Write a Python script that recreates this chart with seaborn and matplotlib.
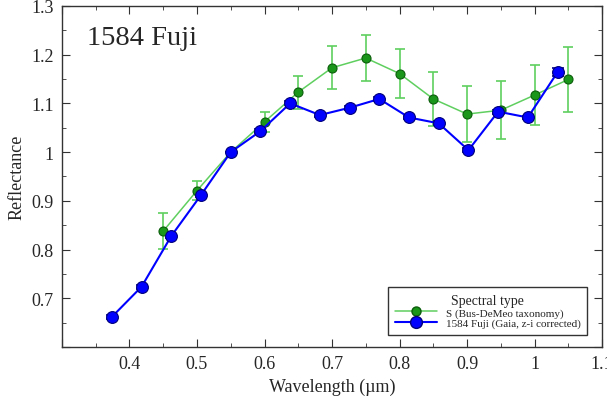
import matplotlib
matplotlib.use("Agg")
import matplotlib.pyplot as plt
import matplotlib.ticker as mticker
from matplotlib.lines import Line2D
import pandas as pd
import seaborn as sns

# S-type template (Bus-DeMeo)
s_wave = [0.45, 0.50, 0.55, 0.60, 0.65, 0.70, 0.75, 0.80, 0.85, 0.90, 0.95, 1.00, 1.05]
s_refl = [0.838, 0.921, 1.000, 1.062, 1.123, 1.173, 1.193, 1.161, 1.109, 1.078, 1.086, 1.117, 1.149]
s_err = [0.037, 0.020, 0.000, 0.020, 0.034, 0.044, 0.048, 0.050, 0.056, 0.058, 0.060, 0.061, 0.066]

# 1584 Fuji, Gaia DR3 reflectance
g_wave = [0.374, 0.418, 0.462, 0.506, 0.550, 0.594, 0.638, 0.682,
          0.726, 0.770, 0.814, 0.858, 0.902, 0.946, 0.990, 1.034]
g_refl = [0.662, 0.724, 0.828, 0.912, 1.000, 1.043, 1.100, 1.076,
          1.091, 1.109, 1.071, 1.059, 1.004, 1.083, 1.071, 1.164]
g_err = [0.004, 0.004, 0.004, 0.004, 0.0, 0.004, 0.004, 0.004,
         0.004, 0.004, 0.004, 0.004, 0.004, 0.004, 0.004, 0.008]

df_s = pd.DataFrame({"wave": s_wave, "refl": s_refl, "err": s_err})
df_g = pd.DataFrame({"wave": g_wave, "refl": g_refl, "err": g_err})

sns.set_style("ticks")
plt.rcParams["font.family"] = ["Liberation Serif", "DejaVu Serif"]

green_line = "#5fcf5f"
green_face = "#1a961a"
blue = "#0000ff"

fig = plt.figure(figsize=(6.07, 4.02), dpi=100)
ax = fig.add_axes([0.102, 0.134, 0.890, 0.849])

# error bars
ax.errorbar(df_s.wave, df_s.refl, yerr=df_s.err, fmt="none", ecolor=green_line,
            elinewidth=1.2, capsize=3.5, capthick=1.2, zorder=2)
ax.errorbar(df_g.wave, df_g.refl, yerr=df_g.err, fmt="none", ecolor="#00008b",
            elinewidth=1.2, capsize=4, capthick=1.2, zorder=3)

sns.lineplot(data=df_s, x="wave", y="refl", ax=ax, color=green_line, linewidth=1.1,
             marker="o", markersize=6.5, markerfacecolor=green_face,
             markeredgecolor="#0b5e0b", markeredgewidth=0.8, zorder=4)
sns.lineplot(data=df_g, x="wave", y="refl", ax=ax, color=blue, linewidth=1.5,
             marker="o", markersize=8.5, markerfacecolor=blue,
             markeredgecolor="#00007a", markeredgewidth=0.8, zorder=5)

ax.set_xlim(0.3, 1.1)
ax.set_ylim(0.6, 1.3)
ax.xaxis.set_major_locator(mticker.MultipleLocator(0.1))
ax.xaxis.set_minor_locator(mticker.MultipleLocator(0.05))
ax.yaxis.set_major_locator(mticker.MultipleLocator(0.1))
ax.yaxis.set_minor_locator(mticker.MultipleLocator(0.05))


def fmt_x(v, p):
    if abs(v - 0.3) < 1e-9:
        return ""
    return "1" if abs(v - 1) < 1e-9 else f"{v:.1f}"


def fmt_y(v, p):
    if abs(v - 0.6) < 1e-9:
        return ""
    return "1" if abs(v - 1) < 1e-9 else f"{v:.1f}"


ax.xaxis.set_major_formatter(mticker.FuncFormatter(fmt_x))
ax.yaxis.set_major_formatter(mticker.FuncFormatter(fmt_y))
ax.tick_params(which="both", direction="in", top=True, right=True, color="#333333")
ax.tick_params(which="major", length=6, labelsize=13, pad=6)
ax.tick_params(which="minor", length=3)
for s in ax.spines.values():
    s.set_linewidth(1.0)
    s.set_color("#333333")

ax.set_xlabel("Wavelength (µm)", fontsize=13)
ax.set_ylabel("Reflectance", fontsize=13)
ax.text(0.046, 0.945, "1584 Fuji", transform=ax.transAxes, fontsize=20.5,
        va="top", ha="left")

handles = [
    Line2D([], [], color=green_line, linewidth=1.1, marker="o", markersize=6.5,
           markerfacecolor=green_face, markeredgecolor="#0b5e0b"),
    Line2D([], [], color=blue, linewidth=1.5, marker="o", markersize=8.5,
           markerfacecolor=blue, markeredgecolor="#00007a"),
]
leg = ax.legend(handles, ["S (Bus-DeMeo taxonomy)", "1584 Fuji (Gaia, z-i corrected)"],
                title="Spectral type", loc="lower right", bbox_to_anchor=(0.983, 0.02),
                fontsize=8, title_fontsize=10, fancybox=False, framealpha=1,
                edgecolor="#333333", handlelength=3.8, labelspacing=0.05,
                borderpad=0.6)
leg.get_frame().set_linewidth(1.0)

fig.savefig("out.png", dpi=100)
